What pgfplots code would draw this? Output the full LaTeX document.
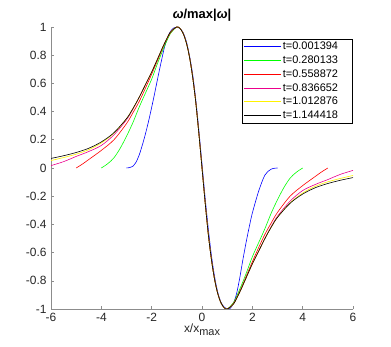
\documentclass[border=0pt]{standalone}
\usepackage{fontspec}
\setmainfont{Liberation Sans}
\usepackage{pgfplots}
\pgfplotsset{compat=1.18}

% legend sample as a thin filled bar, so its colour survives rasterising
\pgfplotsset{
    legend image code/.code={%
        \fill[#1, draw=none] (0bp,-0.5bp) rectangle (37bp,0.5bp);},
}

\begin{document}
\begin{tikzpicture}
\begin{axis}[
    name=ax,
    scale only axis, width=302bp, height=282bp,
    xmin=-6, xmax=6, ymin=-1, ymax=1,
    axis x line=bottom, axis y line=left,
    axis line style={-, black!45, line width=0.7pt},
    tick align=inside, major tick length=3bp,
    tick style={black!45, line width=0.6pt},
    xtick={-6,-4,-2,0,2,4,6},
    ytick={-1,-0.8,-0.6,-0.4,-0.2,0,0.2,0.4,0.6,0.8,1},
    /pgf/number format/assume math mode=true,
    tick label style={font=\fontsize{12}{14}\selectfont, text=black!85},
    yticklabel style={xshift=-1bp},
    xticklabel style={yshift=-1bp},
    title={\bfseries{\itshape ω}/max|{\itshape ω}|},
    title style={font=\fontsize{13}{15}\selectfont, yshift=-4bp},
    xlabel={x/x\raisebox{-3.5bp}{\fontsize{11}{12}\selectfont max}},
    xlabel style={font=\fontsize{12}{14}\selectfont, text=black!85, yshift=5bp},
    legend style={at={(0.997,0.957)}, anchor=north east,
        font=\fontsize{11}{13}\selectfont, inner xsep=2bp, inner ysep=2bp,
        row sep=2.6bp, column sep=1bp,
        nodes={inner sep=1bp, text width=66bp}},
    legend cell align=left,
    every axis plot/.append style={line width=0.6pt, smooth, tension=0.5},
]
\addplot[color=blue] coordinates {
(-3,0) (-2.875,0.003) (-2.75,0.012) (-2.625,0.04) (-2.5,0.09) (-2.375,0.16)
(-2.25,0.24) (-2.125,0.33) (-2,0.43) (-1.875,0.535) (-1.75,0.645) (-1.625,0.75)
(-1.5,0.85) (-1.375,0.925) (-1.25,0.97) (-1.125,0.993) (-1,1) (-0.875,0.99)
(-0.75,0.96) (-0.625,0.9) (-0.5,0.8) (-0.375,0.67) (-0.25,0.49) (-0.125,0.27)
(0,0.03) (0.125,-0.21) (0.25,-0.43) (0.375,-0.62) (0.5,-0.77) (0.625,-0.88)
(0.75,-0.95) (0.875,-0.985) (1,-0.999) (1.05,-1) (1.125,-0.995) (1.25,-0.96)
(1.375,-0.89) (1.5,-0.78) (1.625,-0.65) (1.75,-0.53) (1.875,-0.42) (2,-0.32)
(2.25,-0.165) (2.5,-0.05) (2.75,-0.008) (3,0)};
\addlegendentry{t=0.001394}
\addplot[color=green] coordinates {
(-4,0) (-3.75,0.03) (-3.5,0.072) (-3.25,0.14) (-3,0.225) (-2.75,0.32)
(-2.5,0.43) (-2.25,0.53) (-2,0.63) (-1.75,0.75) (-1.5,0.86) (-1.25,0.955)
(-1,1) (-0.875,0.99) (-0.75,0.955) (-0.625,0.89) (-0.5,0.79) (-0.375,0.65)
(-0.25,0.47) (-0.125,0.245) (0,0)
(0.125,-0.245) (0.25,-0.47) (0.375,-0.65) (0.5,-0.79) (0.625,-0.89)
(0.75,-0.955) (0.875,-0.99) (1,-1) (1.25,-0.955) (1.5,-0.86) (1.75,-0.75)
(2,-0.63) (2.25,-0.53) (2.5,-0.43) (2.75,-0.32) (3,-0.225) (3.25,-0.14)
(3.5,-0.072) (3.75,-0.03) (4,0)};
\addlegendentry{t=0.280133}
\addplot[color=red] coordinates {
(-5,0) (-4.75,0.028) (-4.5,0.06) (-4,0.125) (-3.5,0.2) (-3,0.315) (-2.75,0.39)
(-2.5,0.47) (-2.25,0.565) (-2,0.665) (-1.75,0.77) (-1.5,0.875) (-1.25,0.96)
(-1,1) (-0.875,0.99) (-0.75,0.955) (-0.625,0.89) (-0.5,0.79) (-0.375,0.65)
(-0.25,0.47) (-0.125,0.245) (0,0)
(0.125,-0.245) (0.25,-0.47) (0.375,-0.65) (0.5,-0.79) (0.625,-0.89)
(0.75,-0.955) (0.875,-0.99) (1,-1) (1.25,-0.96) (1.5,-0.875) (1.75,-0.77)
(2,-0.665) (2.25,-0.565) (2.5,-0.47) (2.75,-0.39) (3,-0.315) (3.5,-0.2)
(4,-0.125) (4.5,-0.06) (4.75,-0.028) (5,0)};
\addlegendentry{t=0.558872}
\addplot[color=magenta] coordinates {
(-6,0.017) (-5.5,0.045) (-5,0.082) (-4.5,0.117) (-4,0.16) (-3.5,0.235)
(-3,0.342) (-2.75,0.415) (-2.5,0.5) (-2.25,0.59) (-2,0.68) (-1.75,0.78)
(-1.5,0.88) (-1.25,0.965) (-1,1) (-0.875,0.99) (-0.75,0.955) (-0.625,0.89)
(-0.5,0.79) (-0.375,0.65) (-0.25,0.47) (-0.125,0.245) (0,0)
(0.125,-0.245) (0.25,-0.47) (0.375,-0.65) (0.5,-0.79) (0.625,-0.89)
(0.75,-0.955) (0.875,-0.99) (1,-1) (1.25,-0.965) (1.5,-0.88) (1.75,-0.78)
(2,-0.68) (2.25,-0.59) (2.5,-0.5) (2.75,-0.415) (3,-0.342) (3.5,-0.235)
(4,-0.16) (4.5,-0.117) (5,-0.082) (5.5,-0.045) (6,-0.017)};
\addlegendentry{t=0.836652}
\addplot[color=yellow] coordinates {
(-6,0.053) (-5.5,0.074) (-5,0.098) (-4.5,0.13) (-4,0.178) (-3.5,0.247)
(-3,0.35) (-2.75,0.42) (-2.5,0.5) (-2.25,0.59) (-2,0.68) (-1.75,0.78)
(-1.5,0.88) (-1.25,0.965) (-1,1) (-0.875,0.99) (-0.75,0.955) (-0.625,0.89)
(-0.5,0.79) (-0.375,0.65) (-0.25,0.47) (-0.125,0.245) (0,0)
(0.125,-0.245) (0.25,-0.47) (0.375,-0.65) (0.5,-0.79) (0.625,-0.89)
(0.75,-0.955) (0.875,-0.99) (1,-1) (1.25,-0.965) (1.5,-0.88) (1.75,-0.78)
(2,-0.68) (2.25,-0.59) (2.5,-0.5) (2.75,-0.42) (3,-0.35) (3.5,-0.247)
(4,-0.178) (4.5,-0.13) (5,-0.098) (5.5,-0.074) (6,-0.053)};
\addlegendentry{t=1.012876}
\addplot[color=black] coordinates {
(-6,0.068) (-5.5,0.087) (-5,0.11) (-4.5,0.14) (-4,0.185) (-3.5,0.25)
(-3,0.35) (-2.75,0.42) (-2.5,0.5) (-2.25,0.59) (-2,0.68) (-1.75,0.78)
(-1.5,0.88) (-1.25,0.965) (-1,1) (-0.875,0.99) (-0.75,0.955) (-0.625,0.89)
(-0.5,0.79) (-0.375,0.65) (-0.25,0.47) (-0.125,0.245) (0,0)
(0.125,-0.245) (0.25,-0.47) (0.375,-0.65) (0.5,-0.79) (0.625,-0.89)
(0.75,-0.955) (0.875,-0.99) (1,-1) (1.25,-0.965) (1.5,-0.88) (1.75,-0.78)
(2,-0.68) (2.25,-0.59) (2.5,-0.5) (2.75,-0.42) (3,-0.35) (3.5,-0.25)
(4,-0.185) (4.5,-0.14) (5,-0.11) (5.5,-0.087) (6,-0.068)};
\addlegendentry{t=1.144418}
\end{axis}
\path[use as bounding box] ([xshift=-51bp,yshift=-38bp]ax.south west)
    rectangle ([xshift=38bp,yshift=27bp]ax.north east);
\end{tikzpicture}
\end{document}
